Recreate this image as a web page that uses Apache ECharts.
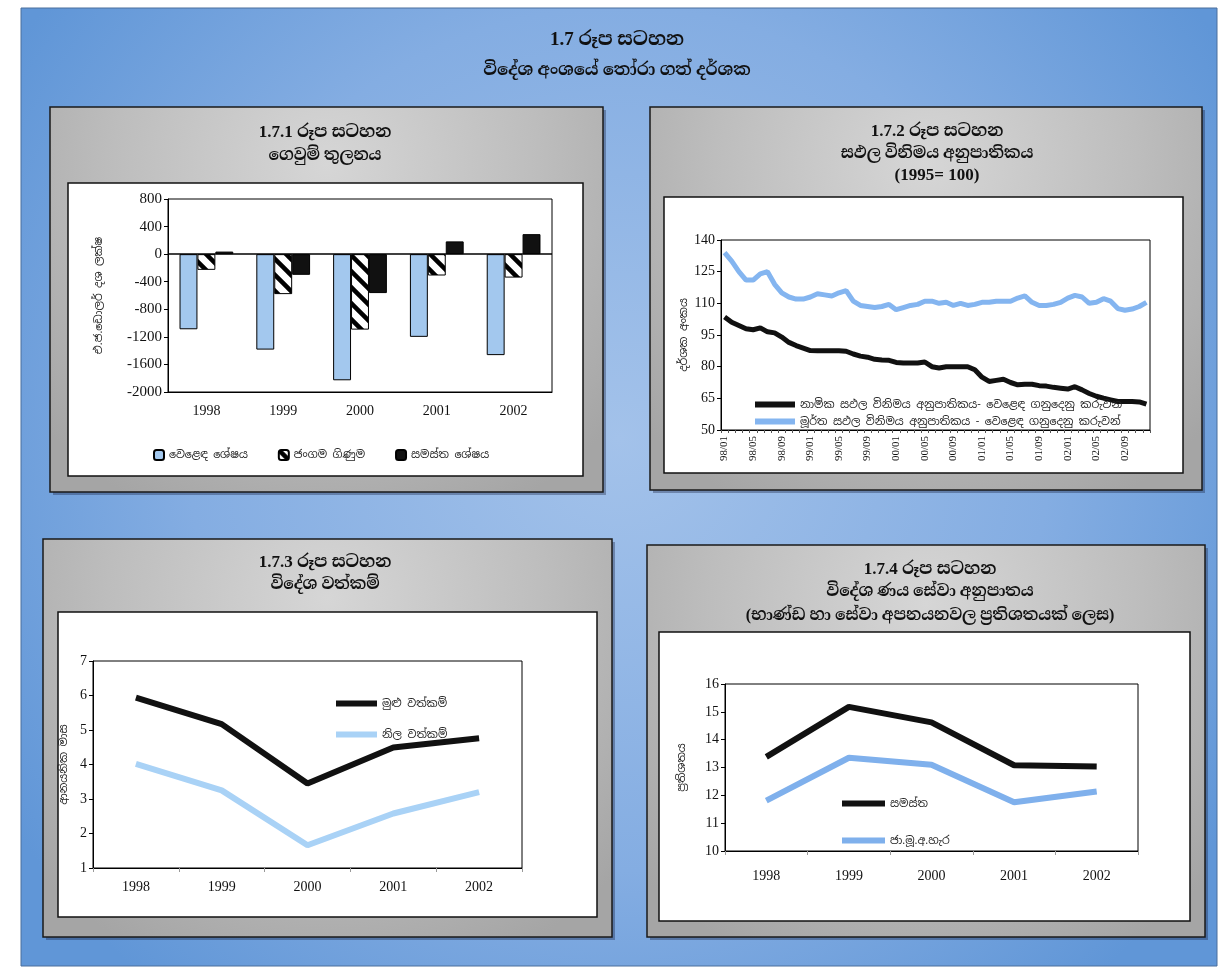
<!DOCTYPE html>
<html>
<head>
<meta charset="utf-8">
<script src="https://cdn.jsdelivr.net/npm/echarts@6/dist/echarts.min.js"></script>
<style>
  html, body { margin: 0; padding: 0; background: #fff; }
  #main { width: 1225px; height: 977px; }
</style>
</head>
<body>
<div id="main"></div>
<script>
// ---------- data ----------
const years = ['1998', '1999', '2000', '2001', '2002'];

// 1.7.1 balance of payments (US$ million)
const tradeBalance   = [-1090, -1385, -1830, -1200, -1465];
const currentAccount = [-228, -580, -1095, -310, -340];
const overallBalance = [37, -300, -565, 185, 290];

// 1.7.2 effective exchange rate indices, monthly 1998/01 - 2002/12 (1995 = 100)
const months = [
  '98/01','98/02','98/03','98/04','98/05','98/06','98/07','98/08','98/09','98/10','98/11','98/12',
  '99/01','99/02','99/03','99/04','99/05','99/06','99/07','99/08','99/09','99/10','99/11','99/12',
  '00/01','00/02','00/03','00/04','00/05','00/06','00/07','00/08','00/09','00/10','00/11','00/12',
  '01/01','01/02','01/03','01/04','01/05','01/06','01/07','01/08','01/09','01/10','01/11','01/12',
  '02/01','02/02','02/03','02/04','02/05','02/06','02/07','02/08','02/09','02/10','02/11','02/12'
];
const neerIndex = [
  103.5, 101, 99.5, 98, 97.5, 98.4, 96.5, 96, 94, 91.5, 90, 88.8,
  87.6, 87.5, 87.5, 87.5, 87.5, 87.3, 86, 85, 84.5, 83.5, 83.2, 83,
  82, 81.7, 81.7, 81.7, 82.2, 80, 79.4, 80, 80, 80, 80, 78.5,
  75, 73, 73.5, 74, 72.5, 71.4, 71.7, 71.7, 71, 70.8, 70.2, 69.8,
  69.4, 70.5, 69, 67.3, 66, 65.1, 64.3, 63.5, 63.5, 63.5, 63.3, 62.2
];
const reerIndex = [
  134, 130, 125, 121, 121, 124, 125, 119, 115, 113, 112, 112,
  113, 114.5, 114, 113.5, 115, 116, 111, 109, 108.5, 108, 108.5, 109.5,
  107, 108, 109, 109.5, 111, 111, 110, 110.5, 109, 110, 109, 109.5,
  110.5, 110.5, 111, 111, 111, 112.5, 113.5, 110.5, 109, 109, 109.5, 110.5,
  112.5, 113.8, 113, 110, 110.5, 112.2, 111, 107.5, 106.7, 107.3, 108.5, 110.5
];

// 1.7.3 external assets (months of imports)
const totalAssets    = [5.94, 5.17, 3.45, 4.49, 4.76];
const officialAssets = [4.02, 3.25, 1.66, 2.58, 3.2];

// 1.7.4 debt service ratio (% of exports of goods and services)
const debtServiceTotal  = [13.38, 15.18, 14.62, 13.08, 13.04];
const debtServiceExIMF  = [11.81, 13.35, 13.1, 11.75, 12.14];

// ---------- styling helpers ----------
const serif = '"Liberation Serif","DejaVu Serif","Noto Serif Sinhala","Noto Sans Sinhala",serif';
const sinh  = '"Noto Sans Sinhala","Noto Serif Sinhala","Iskoola Pota","Noto Sans",sans-serif';
const ink = '#111';
const blueBar = '#a3c8ee';
const blueLine2 = '#84b5f0';
const blueLine3 = '#a9d2f6';
const blueLine4 = '#7fb0ec';

// diagonal hatch used for the current account bars
function hatchPattern() {
  const s = 16;
  const c = document.createElement('canvas');
  c.width = s; c.height = s;
  const g = c.getContext('2d');
  g.fillStyle = '#fff';
  g.fillRect(0, 0, s, s);
  g.strokeStyle = '#000';
  g.lineWidth = 4.5;
  g.beginPath();
  g.moveTo(-4, -4); g.lineTo(s + 4, s + 4);
  g.moveTo(-4, s - 4); g.lineTo(4, s + 4);
  g.moveTo(s - 4, -4); g.lineTo(s + 4, 4);
  g.stroke();
  return c;
}

const greyFill = {
  type: 'radial', x: 0.5, y: 0.15, r: 1.0,
  colorStops: [{ offset: 0, color: '#d6d6d6' }, { offset: 0.55, color: '#bdbdbd' }, { offset: 1, color: '#a5a5a5' }]
};

function panel(x, y, w, h, bx, by, bw, bh) {
  return [
    { type: 'rect', z: -20, shape: { x: x + 3, y: y + 3, width: w, height: h }, style: { fill: 'rgba(20,30,60,0.35)' } },
    { type: 'rect', z: -19, shape: { x, y, width: w, height: h }, style: { fill: greyFill, stroke: '#1a1a1a', lineWidth: 1.5 } },
    { type: 'rect', z: -18, shape: { x: bx, y: by, width: bw, height: bh }, style: { fill: '#fff', stroke: '#111', lineWidth: 1.5 } }
  ];
}

function heading(text, x, y, size) {
  return {
    type: 'text', z: 50, x, y,
    style: {
      text, fill: '#111', align: 'center', verticalAlign: 'middle',
      font: 'bold ' + size + 'px ' + serif,
      shadowColor: 'rgba(255,255,255,0.9)', shadowBlur: 3
    }
  };
}

const axisText = { fontFamily: serif, fontSize: 14, color: ink };
const axisLineBlack = { show: true, lineStyle: { color: '#000', width: 1 } };
const tickBlack = { show: true, length: 4, lineStyle: { color: '#000' } };

function yAxisCommon(grid, min, max, interval, name, nameGap) {
  return {
    type: 'value', gridIndex: grid, min, max, interval,
    axisLine: axisLineBlack, axisTick: tickBlack, splitLine: { show: false },
    axisLabel: Object.assign({ margin: 6, formatter: v => String(v) }, axisText),
    name, nameLocation: 'middle', nameGap,
    nameTextStyle: { fontFamily: sinh, fontSize: 11, color: '#222' }
  };
}

function xAxisYears(grid, margin) {
  return {
    type: 'category', gridIndex: grid, data: years, boundaryGap: true,
    axisLine: Object.assign({ onZero: false }, axisLineBlack),
    axisTick: { show: true, length: 4, lineStyle: { color: '#999' } },
    axisLabel: Object.assign({ margin }, axisText)
  };
}

const chart = echarts.init(document.getElementById('main'), null, { renderer: 'canvas' });

const gridBox = { show: true, borderColor: '#000', borderWidth: 1, backgroundColor: 'transparent', containLabel: false };

const option = {
  animation: false,
  backgroundColor: '#fff',
  graphic: [
    // page backdrop
    { type: 'rect', z: -30, shape: { x: 21, y: 8, width: 1196, height: 958 },
      style: { fill: { type: 'radial', x: 0.5, y: 0.45, r: 0.75,
        colorStops: [{ offset: 0, color: '#a3c2ea' }, { offset: 0.6, color: '#84ade2' }, { offset: 1, color: '#6096d7' }] },
        stroke: '#4a6e9c', lineWidth: 1 } },
    ...panel(50, 107, 553, 385, 68, 183, 515, 293),
    ...panel(650, 107, 552, 383, 664, 197, 519, 276),
    ...panel(43, 539, 569, 398, 58, 612, 539, 305),
    ...panel(647, 545, 558, 392, 659, 632, 531, 289),
    heading('1.7 රූප සටහන', 617, 40, 19),
    heading('විදේශ අංශයේ තෝරා ගත් දර්ශක', 617, 71, 17),
    heading('1.7.1 රූප සටහන', 325, 133, 17),
    heading('ගෙවුම් තුලනය', 325, 156, 16),
    heading('1.7.2 රූප සටහන', 937, 132, 17),
    heading('සඵල විනිමය අනුපාතිකය', 937, 154, 16),
    heading('(1995= 100)', 937, 176, 17),
    heading('1.7.3 රූප සටහන', 325, 563, 17),
    heading('විදේශ වත්කම්', 325, 585, 16),
    heading('1.7.4 රූප සටහන', 930, 570, 17),
    heading('විදේශ ණය සේවා අනුපාතය', 930, 592, 16),
    heading('(භාණ්ඩ හා සේවා අපනයනවල ප්‍රතිශතයක් ලෙස)', 930, 616, 16)
  ],
  grid: [
    Object.assign({ left: 168, top: 199, width: 384, height: 193 }, gridBox),
    Object.assign({ left: 721, top: 240, width: 429, height: 190 }, gridBox),
    Object.assign({ left: 93, top: 661, width: 429, height: 207 }, gridBox),
    Object.assign({ left: 725, top: 684, width: 413, height: 167 }, gridBox)
  ],
  xAxis: [
    Object.assign(xAxisYears(0, 12), { axisTick: { show: false } }),
    {
      type: 'category', gridIndex: 1, data: months, boundaryGap: true,
      axisLine: Object.assign({ onZero: false }, axisLineBlack),
      axisTick: { show: true, interval: 0, length: 3, lineStyle: { color: '#555' } },
      axisLabel: { interval: 3, rotate: 90, margin: 6, fontFamily: serif, fontSize: 11, color: ink }
    },
    xAxisYears(2, 12),
    xAxisYears(3, 18)
  ],
  yAxis: [
    Object.assign(yAxisCommon(0, -2000, 800, 400, 'එ.ජ.ඩොලර් දශ ලක්ෂ', 64), {
      axisLabel: Object.assign({ margin: 6, formatter: v => String(v) }, axisText, { fontSize: 15 })
    }),
    yAxisCommon(1, 50, 140, 15, 'දර්ශක අංකය', 32),
    yAxisCommon(2, 1, 7, 1, 'ආනයනික මාස', 24),
    yAxisCommon(3, 10, 16, 1, 'ප්‍රතිශතය', 38)
  ],
  legend: [
    {
      left: 148, top: 444, itemWidth: 10, itemHeight: 10, itemGap: 30,
      textStyle: { fontFamily: sinh, fontSize: 11, color: '#222' },
      data: ['වෙළෙඳ ශේෂය', 'ජංගම ගිණුම', 'සමස්ත ශේෂය']
    },
    {
      left: 750, top: 394, orient: 'vertical', itemWidth: 40, itemHeight: 6, itemGap: 6,
      textStyle: { fontFamily: sinh, fontSize: 11, color: '#222' },
      data: [
        { name: 'නාමික සඵල විනිමය අනුපාතිකය- වෙළෙඳ ගනුදෙනු කරුවන', icon: 'rect' },
        { name: 'මූර්ත සඵල විනිමය අනුපාතිකය - වෙළෙඳ ගනුදෙනු කරුවන්', icon: 'rect' }
      ]
    },
    {
      left: 331, top: 693, orient: 'vertical', itemWidth: 41, itemHeight: 6, itemGap: 20,
      textStyle: { fontFamily: sinh, fontSize: 11, color: '#222' },
      data: [{ name: 'මුළු වත්කම්', icon: 'rect' }, { name: 'නිල වත්කම්', icon: 'rect' }]
    },
    {
      left: 837, top: 793, orient: 'vertical', itemWidth: 43, itemHeight: 6, itemGap: 26,
      textStyle: { fontFamily: sinh, fontSize: 11, color: '#222' },
      data: [{ name: 'සමස්ත', icon: 'rect' }, { name: 'ජා.මූ.අ.හැර', icon: 'rect' }]
    }
  ],
  series: [
    {
      name: 'වෙළෙඳ ශේෂය', type: 'bar', xAxisIndex: 0, yAxisIndex: 0, data: tradeBalance,
      barGap: '0%', barCategoryGap: '30%',
      itemStyle: { color: blueBar, borderColor: '#000', borderWidth: 1 },
      markLine: {
        silent: true, symbol: 'none', label: { show: false },
        lineStyle: { color: '#000', width: 1.5, type: 'solid' },
        data: [{ yAxis: 0 }]
      }
    },
    {
      name: 'ජංගම ගිණුම', type: 'bar', xAxisIndex: 0, yAxisIndex: 0, data: currentAccount,
      itemStyle: { color: { image: hatchPattern(), repeat: 'repeat' }, borderColor: '#000', borderWidth: 1 }
    },
    {
      name: 'සමස්ත ශේෂය', type: 'bar', xAxisIndex: 0, yAxisIndex: 0, data: overallBalance,
      itemStyle: { color: '#111', borderColor: '#000', borderWidth: 1 }
    },
    {
      name: 'නාමික සඵල විනිමය අනුපාතිකය- වෙළෙඳ ගනුදෙනු කරුවන', type: 'line', xAxisIndex: 1, yAxisIndex: 1,
      data: neerIndex, symbol: 'none', color: '#111', lineStyle: { color: '#111', width: 5 }
    },
    {
      name: 'මූර්ත සඵල විනිමය අනුපාතිකය - වෙළෙඳ ගනුදෙනු කරුවන්', type: 'line', xAxisIndex: 1, yAxisIndex: 1,
      data: reerIndex, symbol: 'none', color: blueLine2, lineStyle: { color: blueLine2, width: 5 }
    },
    {
      name: 'මුළු වත්කම්', type: 'line', xAxisIndex: 2, yAxisIndex: 2,
      data: totalAssets, symbol: 'none', color: '#111', lineStyle: { color: '#111', width: 6 }
    },
    {
      name: 'නිල වත්කම්', type: 'line', xAxisIndex: 2, yAxisIndex: 2,
      data: officialAssets, symbol: 'none', color: blueLine3, lineStyle: { color: blueLine3, width: 6 }
    },
    {
      name: 'සමස්ත', type: 'line', xAxisIndex: 3, yAxisIndex: 3,
      data: debtServiceTotal, symbol: 'none', color: '#111', lineStyle: { color: '#111', width: 6 }
    },
    {
      name: 'ජා.මූ.අ.හැර', type: 'line', xAxisIndex: 3, yAxisIndex: 3,
      data: debtServiceExIMF, symbol: 'none', color: blueLine4, lineStyle: { color: blueLine4, width: 6 }
    }
  ]
};

chart.setOption(option);
</script>
</body>
</html>
